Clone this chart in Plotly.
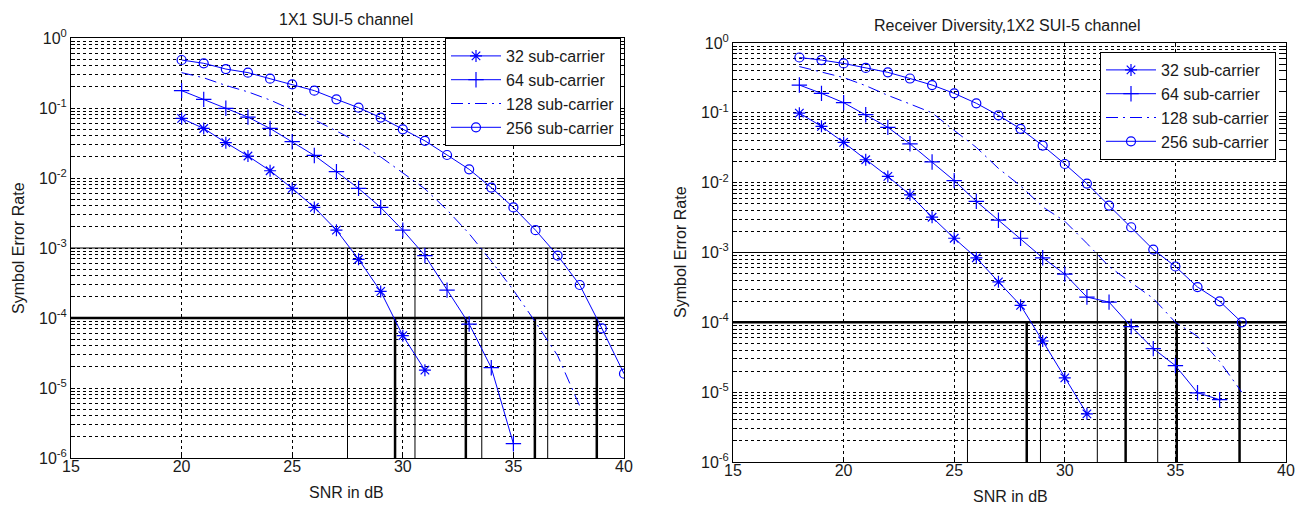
import plotly.graph_objects as go

# ---------------- data ----------------
left_title = "1X1 SUI-5 channel"
right_title = "Receiver Diversity,1X2 SUI-5 channel"
series_names = ["32 sub-carrier", "64 sub-carrier", "128 sub-carrier", "256 sub-carrier"]

# Left panel: 1X1 SUI-5
l_snr_32 = list(range(20, 32))
l_ser_32 = [0.071, 0.051, 0.032, 0.0206, 0.0127, 0.0071, 0.0038, 0.0018, 6.9e-4, 2.4e-4, 5.6e-5, 1.8e-5]
l_snr_64 = list(range(20, 36))
l_ser_64 = [0.177, 0.133, 0.099, 0.074, 0.051, 0.033, 0.021, 0.0123, 0.0071, 0.0038, 0.0018,
            7.8e-4, 2.5e-4, 8.2e-5, 1.95e-5, 1.6e-6]
l_snr_128 = list(range(20, 39))
l_ser_128 = [0.32, 0.27, 0.21, 0.17, 0.13, 0.095, 0.068, 0.047, 0.032, 0.02, 0.012, 0.007,
             0.0035, 0.0016, 6.5e-4, 2.5e-4, 8.7e-5, 2.9e-5, 5.5e-6]
l_snr_256 = list(range(20, 41))
l_ser_256 = [0.485, 0.435, 0.36, 0.32, 0.262, 0.218, 0.177, 0.133, 0.101, 0.073, 0.0496, 0.034,
             0.0213, 0.0133, 0.0073, 0.0038, 0.0018, 7.8e-4, 2.96e-4, 7.1e-5, 1.6e-5]

# Right panel: receiver diversity 1X2 SUI-5
r_snr_32 = list(range(18, 32))
r_ser_32 = [0.099, 0.064, 0.0377, 0.0213, 0.0123, 0.0067, 0.0032, 0.0016, 8.4e-4, 3.8e-4,
            1.75e-4, 5.4e-5, 1.6e-5, 4.9e-6]
r_snr_64 = list(range(18, 38))
r_ser_64 = [0.25, 0.19, 0.14, 0.094, 0.062, 0.036, 0.0198, 0.0107, 0.0054, 0.0029, 0.0016,
            8.4e-4, 4.9e-4, 2.3e-4, 1.95e-4, 8.7e-5, 4.2e-5, 2.4e-5, 9.8e-6, 7.8e-6]
r_snr_128 = list(range(18, 39))
r_ser_128 = [0.46, 0.38, 0.32, 0.245, 0.178, 0.134, 0.1, 0.056, 0.032, 0.016, 0.009, 0.0045,
             0.0028, 0.00135, 6.3e-4, 3.7e-4, 2.2e-4, 1e-4, 6.3e-5, 2.75e-5, 1e-5]
r_snr_256 = list(range(18, 39))
r_ser_256 = [0.62, 0.57, 0.51, 0.44, 0.38, 0.31, 0.25, 0.19, 0.137, 0.092, 0.059, 0.034,
             0.0185, 0.0097, 0.0047, 0.0023, 0.0011, 6.3e-4, 3.2e-4, 2e-4, 1e-4]

# threshold levels and the SNRs where each curve crosses them
ser_levels = [1e-3, 1e-4]
l_cross_1e3 = [27.5, 30.55, 33.57, 36.55]
l_cross_1e4 = [29.65, 32.85, 35.97, 38.77]
r_cross_1e3 = [25.6, 28.9, 31.47, 34.2]
r_cross_1e4 = [28.28, 32.75, 35.06, 37.9]

x_ticks = [15, 20, 25, 30, 35, 40]
y_exponents = [-6, -5, -4, -3, -2, -1, 0]
x_range = [15, 40]
y_floor = 1e-6

# ---------------- figure ----------------
W, H = 1311, 507
BLUE = "#0000FF"
FONT = "Liberation Sans, Arial, sans-serif"
TXT = "#1a1a1a"

fig = go.Figure()

styles = [
    dict(mode="lines+markers", line=dict(color=BLUE, width=1),
         marker=dict(symbol="asterisk-open", size=10, color=BLUE, line=dict(width=1.2, color=BLUE))),
    dict(mode="lines+markers", line=dict(color=BLUE, width=1),
         marker=dict(symbol="cross-thin-open", size=11, color=BLUE, line=dict(width=1.2, color=BLUE))),
    dict(mode="lines", line=dict(color=BLUE, width=1, dash="12px,5px,2px,5px")),
    dict(mode="lines+markers", line=dict(color=BLUE, width=1),
         marker=dict(symbol="circle-open", size=9, color=BLUE, line=dict(width=1.2, color=BLUE))),
]

panels = [
    ("x", "y", "legend", [(l_snr_32, l_ser_32), (l_snr_64, l_ser_64), (l_snr_128, l_ser_128), (l_snr_256, l_ser_256)],
     l_cross_1e3, l_cross_1e4),
    ("x2", "y2", "legend2", [(r_snr_32, r_ser_32), (r_snr_64, r_ser_64), (r_snr_128, r_ser_128), (r_snr_256, r_ser_256)],
     r_cross_1e3, r_cross_1e4),
]

for xa, ya, lg, series, c3, c4 in panels:
    # threshold guide lines (black)
    for level, crosses, width in ((ser_levels[0], c3, 1), (ser_levels[1], c4, 2.5)):
        hx, hy = [x_range[0], x_range[1]], [level, level]
        vx, vy = [], []
        for c in crosses:
            vx += [c, c, None]
            vy += [level, y_floor, None]
        fig.add_trace(go.Scatter(x=hx, y=hy, mode="lines", line=dict(color="black", width=width),
                                 showlegend=False, hoverinfo="skip", xaxis=xa, yaxis=ya))
        fig.add_trace(go.Scatter(x=vx, y=vy, mode="lines", line=dict(color="black", width=width),
                                 showlegend=False, hoverinfo="skip", xaxis=xa, yaxis=ya))
    for name, (sx, sy), st in zip(series_names, series, styles):
        fig.add_trace(go.Scatter(x=sx, y=sy, name=name, xaxis=xa, yaxis=ya, legend=lg, **st))

# ticks / grid
y_tickvals, y_ticktext = [], []
for e in y_exponents:
    for k in range(1, 10):
        if e == 0 and k > 1:
            break
        y_tickvals.append(k * 10.0 ** e)
        y_ticktext.append(f"10<sup>{e}</sup>" if k == 1 else "")

axis_common = dict(showline=True, linecolor="black", linewidth=1, mirror="ticks",
                   ticks="inside", ticklen=4, tickcolor="black", automargin=False,
                   showgrid=True, gridcolor="black", gridwidth=1, griddash="3px,3px",
                   zeroline=False, tickfont=dict(family=FONT, size=16, color=TXT))

px = lambda v: v / W
py = lambda v: 1 - v / H

legend_common = dict(xanchor="right", yanchor="top", bgcolor="white", bordercolor="black",
                     borderwidth=1, font=dict(family=FONT, size=16, color=TXT),
                     tracegroupgap=0, itemwidth=50)

fig.update_layout(
    width=W, height=H, template="none",
    paper_bgcolor="white", plot_bgcolor="white",
    margin=dict(l=0, r=0, t=0, b=0),
    font=dict(family=FONT, size=16, color=TXT),
    xaxis=dict(domain=[px(71), px(624)], range=x_range, tickvals=x_ticks, anchor="y",
               ticklabelstandoff=-6, **axis_common),
    yaxis=dict(domain=[py(458), py(38)], type="log", range=[-6, 0], tickvals=y_tickvals,
               ticktext=y_ticktext, anchor="x", **axis_common),
    xaxis2=dict(domain=[px(733), px(1286)], range=x_range, tickvals=x_ticks, anchor="y2",
                ticklabelstandoff=-6, **axis_common),
    yaxis2=dict(domain=[py(462), py(43)], type="log", range=[-6, 0], tickvals=y_tickvals,
                ticktext=y_ticktext, anchor="x2", **axis_common),
    legend=dict(x=px(621), y=py(38), **legend_common),
    legend2=dict(x=px(1276), y=py(52), **legend_common),
    showlegend=True,
)

ann = dict(showarrow=False, xref="paper", yref="paper", xanchor="center", yanchor="middle",
           font=dict(family=FONT, size=16, color=TXT))
fig.add_annotation(text=left_title, x=px(346), y=py(20), **ann)
fig.add_annotation(text=right_title, x=px(1007), y=py(25), **ann)
fig.add_annotation(text="SNR in dB", x=px(346), y=py(492), **ann)
fig.add_annotation(text="SNR in dB", x=px(1010), y=py(496), **ann)
fig.add_annotation(text="Symbol Error Rate", x=px(18), y=py(248), textangle=-90, **ann)
fig.add_annotation(text="Symbol Error Rate", x=px(680), y=py(252), textangle=-90, **ann)

fig.write_html("out.html", config={"displayModeBar": False},
               post_script="document.body.style.margin='0px';")
